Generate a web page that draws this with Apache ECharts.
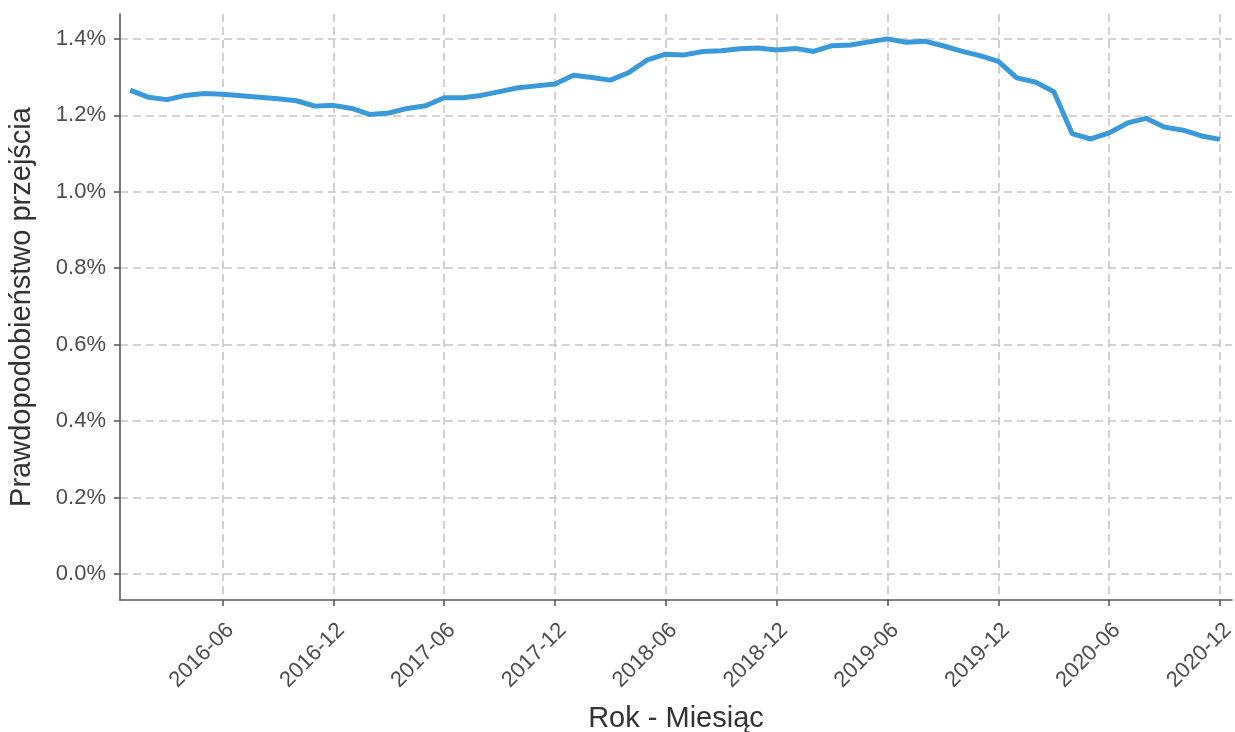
<!DOCTYPE html>
<html>
<head>
<meta charset="utf-8">
<script src="https://cdn.jsdelivr.net/npm/echarts@6/dist/echarts.min.js"></script>
<style>
    html, body { margin: 0; padding: 0; background: #fff; }
    #chart { width: 1235px; height: 732px; }
</style>
</head>
<body>
<div id="chart"></div>
<script>
// miesiace 2016-01 .. 2020-12
const START_YEAR = 2016;
const months = [];
for (let y = START_YEAR; y <= 2020; y++) {
    for (let m = 1; m <= 12; m++) months.push(y + "-" + String(m).padStart(2, "0"));
}

// prawdopodobienstwo przejscia w %
const values = [
    1.266, 1.247, 1.241, 1.252, 1.257, 1.255, 1.251, 1.247, 1.243, 1.238, 1.224, 1.226,
    1.218, 1.202, 1.206, 1.218, 1.225, 1.246, 1.246, 1.252, 1.262, 1.272, 1.277, 1.282,
    1.305, 1.299, 1.292, 1.312, 1.345, 1.360, 1.358, 1.367, 1.369, 1.374, 1.376, 1.371,
    1.375, 1.367, 1.382, 1.384, 1.392, 1.400, 1.391, 1.394, 1.382, 1.368, 1.356, 1.341,
    1.298, 1.287, 1.262, 1.152, 1.138, 1.154, 1.180, 1.192, 1.169, 1.161, 1.146, 1.137
];

const tickLabels = ["2016-06", "2016-12", "2017-06", "2017-12", "2018-06",
    "2018-12", "2019-06", "2019-12", "2020-06", "2020-12"];
const yTicks = [0, 0.2, 0.4, 0.6, 0.8, 1.0, 1.2, 1.4];

const xTicks = tickLabels.map(l => months.indexOf(l));

const FONT = "'Liberation Sans', Arial, sans-serif";
const AXIS_COLOR = "#5a5a5a";
const GRID_LINE = { show: true, lineStyle: { color: "#c6c6c6", width: 1.6, type: [8, 5] } };

const chart = echarts.init(document.getElementById("chart"));
chart.setOption({
    animation: false,
    grid: { left: 120, right: 3, top: 14, bottom: 132, containLabel: false, outerBoundsMode: "none" },
    xAxis: {
        type: "value",
        min: -0.55,
        max: 59.65,
        name: "Rok - Miesiąc",
        nameLocation: "middle",
        nameGap: 104,
        nameTextStyle: { fontFamily: FONT, fontSize: 29, color: "#333" },
        axisLine: { show: true, onZero: false, lineStyle: { color: AXIS_COLOR, width: 1.6 } },
        axisTick: { show: true, customValues: xTicks, length: 6, lineStyle: { color: AXIS_COLOR, width: 1.6 } },
        axisLabel: {
            customValues: xTicks,
            rotate: 45,
            margin: 19,
            align: "right",
            verticalAlign: "top",
            fontFamily: FONT,
            fontSize: 22,
            color: "#4d4d4d",
            formatter: v => months[Math.round(v)]
        },
        splitLine: GRID_LINE
    },
    yAxis: {
        type: "value",
        min: -0.068,
        max: 1.465,
        name: "Prawdopodobieństwo przejścia",
        nameLocation: "middle",
        nameGap: 84,
        nameTextStyle: { fontFamily: FONT, fontSize: 29, color: "#333" },
        axisLine: { show: true, onZero: false, lineStyle: { color: AXIS_COLOR, width: 1.6 } },
        axisTick: { show: true, customValues: yTicks, length: 6, lineStyle: { color: AXIS_COLOR, width: 1.6 } },
        axisLabel: {
            customValues: yTicks,
            margin: 14,
            fontFamily: FONT,
            fontSize: 22,
            color: "#4d4d4d",
            formatter: v => v.toFixed(1) + "%"
        },
        splitLine: GRID_LINE
    },
    series: [
        {
            type: "line",
            data: values.map((v, i) => [i, v]),
            showSymbol: false,
            lineStyle: { color: "#3a9ad9", width: 5 },
            itemStyle: { color: "#3a9ad9" }
        }
    ]
});
</script>
</body>
</html>
